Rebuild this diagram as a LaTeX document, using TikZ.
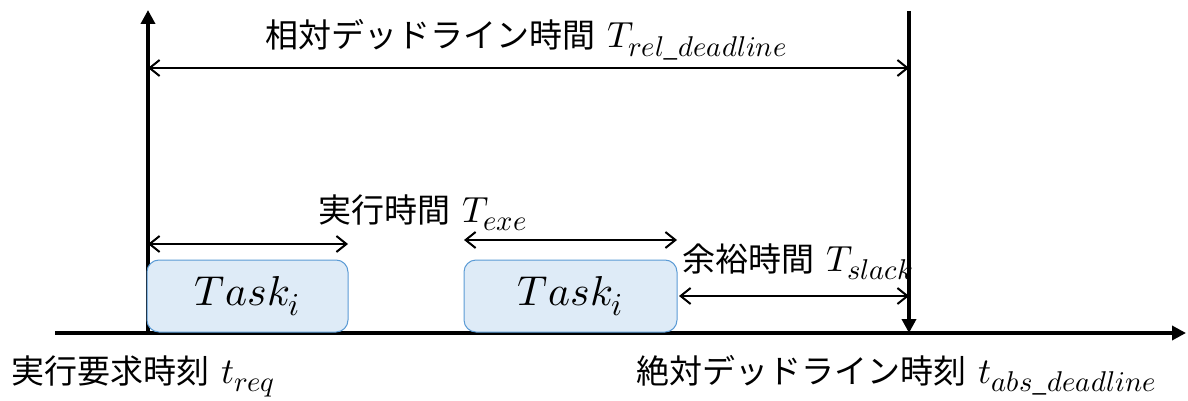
\documentclass[tikz,border=0pt]{standalone}
\usepackage{fontspec}
\usepackage{unicode-math}
\setmathfont{Latin Modern Math}[Scale=1.1]
\DeclareMathSizes{33}{33}{26}{20}
\DeclareMathSizes{38}{38}{29}{22}
\newfontfamily\jp{Noto Sans CJK JP}
\usetikzlibrary{arrows.meta}
\definecolor{boxfill}{RGB}{222,235,247}
\definecolor{boxline}{RGB}{91,155,213}
\tikzset{
  axisline/.style={line width=4pt},
  axisarrow/.style={line width=4pt,-{Triangle[length=14pt,width=14pt]}},
  dimarrow/.style={line width=2pt,{Straight Barb[length=10pt,width=16pt,line width=2pt]}-{Straight Barb[length=10pt,width=16pt,line width=2pt]}},
  lbl/.style={inner sep=0pt,anchor=base west,font=\jp\fontsize{33}{40}\selectfont},
  taskbox/.style={draw=boxline,fill=boxfill,line width=1pt,rounded corners=12pt,inner sep=0pt,
    font=\fontsize{38}{44}\selectfont},
}
\newcommand{\gap}{\hspace{12pt}}
\begin{document}
\begin{tikzpicture}[x=1pt,y=-1pt]
\useasboundingbox (0,0) rectangle (1188,401);
% coordinates
\coordinate (o) at (55,333);
\coordinate (xend) at (1186,333);
\coordinate (req) at (148,333);
\coordinate (reqtop) at (148,10);
\coordinate (dl) at (909,333);
\coordinate (dltop) at (909,11);
\coordinate (relL) at (148,68);
\coordinate (relR) at (909,68);
\coordinate (exeLa) at (148,244);
\coordinate (exeRa) at (348,244);
\coordinate (exeLb) at (464,240);
\coordinate (exeRb) at (677,240);
\coordinate (slL) at (679,296);
\coordinate (slR) at (909,296);
% axes
\draw[axisarrow] (o) -- (xend);
\draw[axisarrow] (req) -- (reqtop);
\draw[axisarrow] (dltop) -- (dl);
% dimension arrows
\draw[dimarrow] (relL) -- (relR);
\draw[dimarrow] (exeLa) -- (exeRa);
\draw[dimarrow] (exeLb) -- (exeRb);
\draw[dimarrow] (slL) -- (slR);
% task boxes
\node[taskbox,minimum width=201pt,minimum height=72pt] (task1) at (247.5,296) {$Task_i$};
\node[taskbox,minimum width=213pt,minimum height=72pt] (task2) at (570.5,296) {$Task_i$};
% labels
\node[lbl] (rel) at (265,48) {相対デッドライン時間\gap$T_{rel\_deadline}$};
\node[lbl] (exe) at (318,222) {実行時間\gap$T_{exe}$};
\node[lbl] (slack) at (682,271) {余裕時間\gap$T_{slack}$};
\node[lbl] (reqlbl) at (11,383) {実行要求時刻\gap$t_{req}$};
\node[lbl] (abslbl) at (636,383) {絶対デッドライン時刻\gap$t_{abs\_deadline}$};
\end{tikzpicture}
\end{document}
